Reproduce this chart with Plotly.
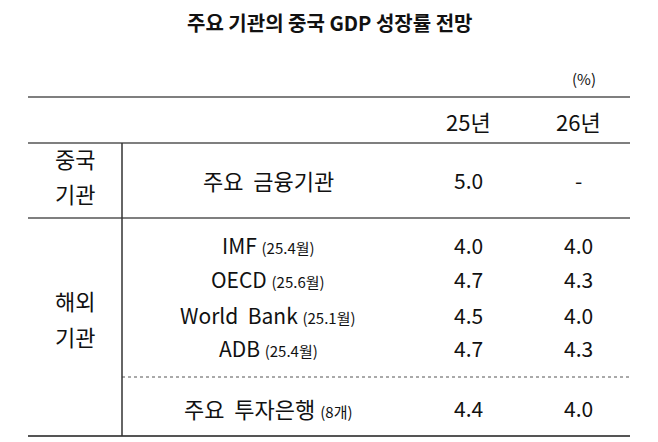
import plotly.graph_objects as go

title = "주요 기관의 중국 GDP 성장률 전망"
unit = "(%)"
years = ["25년", "26년"]
names = ["주요  금융기관", "IMF", "OECD", "World  Bank", "ADB", "주요  투자은행"]
notes = ["", "(25.4월)", "(25.6월)", "(25.1월)", "(25.4월)", "(8개)"]
v25 = ["5.0", "4.0", "4.7", "4.5", "4.7", "4.4"]
v26 = ["-", "4.0", "4.3", "4.0", "4.3", "4.0"]
groups = [["중국", "기관"], ["해외", "기관"]]
group_y = [[158, 193], [300, 336]]

row_y = [180, 245, 279, 315, 348, 408]
F = "Noto Sans CJK KR"
fig = go.Figure()
ann = []
def A(x, y, t, s=21, xa="center"):
    ann.append(dict(x=x, y=y, text=t, showarrow=False, xref="x", yref="y",
                    xanchor=xa, yanchor="middle", font=dict(family=F, size=s, color="#111")))
A(329, 22, "<b>" + title + "</b>", 20)
A(584, 78, unit, 15)
A(468, 121, years[0], 22)
A(578, 121, years[1], 22)
for g, ys in zip(groups, group_y):
    for t, y in zip(g, ys):
        A(75, y, t, 22)
for i in range(len(names)):
    t = names[i] if not notes[i] else names[i] + " <span style='font-size:15px'>" + notes[i] + "</span>"
    A(268, row_y[i], t, 22 if i in (0, 5) else 21)
    A(468, row_y[i], v25[i], 21)
    A(578, row_y[i], v26[i], 21)

shapes = [
    dict(type="line", x0=28, x1=630, y0=97, y1=97, line=dict(color="#555", width=1.5)),
    dict(type="line", x0=28, x1=630, y0=143, y1=143, line=dict(color="#555", width=1.5)),
    dict(type="line", x0=28, x1=630, y0=218, y1=218, line=dict(color="#555", width=1.5)),
    dict(type="line", x0=122, x1=630, y0=377, y1=377, line=dict(color="#555", width=1, dash="dot")),
    dict(type="line", x0=28, x1=630, y0=436, y1=436, line=dict(color="#555", width=2)),
    dict(type="line", x0=122, x1=122, y0=143, y1=436, line=dict(color="#333", width=1.5)),
]
for s in shapes:
    s.update(xref="x", yref="y")
fig.update_layout(width=650, height=434, margin=dict(l=0, r=0, t=0, b=0),
                  plot_bgcolor="white", paper_bgcolor="white",
                  annotations=ann, shapes=shapes,
                  xaxis=dict(range=[8, 658], visible=False),
                  yaxis=dict(range=[442, 8], visible=False))
fig.write_html("out.html")
